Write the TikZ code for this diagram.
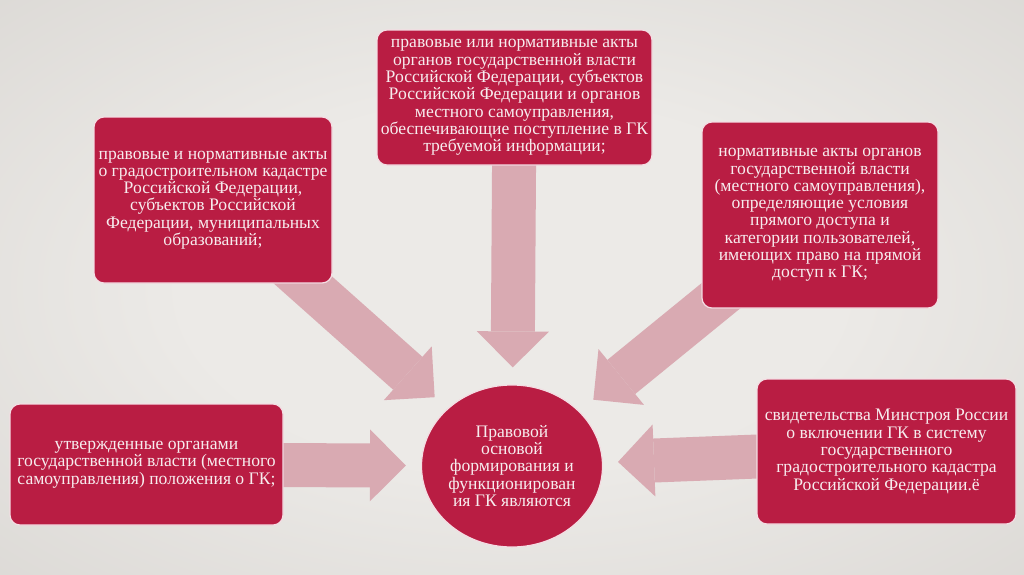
\documentclass[tikz,border=0pt]{standalone}
\usepackage{fontspec}
\setmainfont{Liberation Serif}
\usetikzlibrary{arrows.meta,shapes.geometric}
\definecolor{boxred}{HTML}{B91D43}
\definecolor{arrowpink}{HTML}{D9AAB2}
\definecolor{txtcol}{HTML}{F7ECEE}
\definecolor{bgA}{HTML}{ECEAE7}
\definecolor{bgB}{HTML}{D2CFCB}
\definecolor{bgC}{HTML}{C0BDB9}
\pgfdeclareradialshading{bgshade}{\pgfpoint{0bp}{0bp}}{color(0bp)=(bgA); color(16bp)=(bgA); color(50bp)=(bgB); color(72bp)=(bgC)}
\pgfdeclarelayer{back}
\pgfdeclarelayer{bg}
\pgfsetlayers{back,bg,main}
\begin{document}
\begin{tikzpicture}[x=1pt,y=-1pt,
  box/.style={rectangle, rounded corners=10pt, fill=boxred, draw=white!85!boxred, line width=1.2pt,
    text=txtcol, align=center, inner sep=0pt, font=\fontsize{17.6}{17.3}\selectfont},
  hub/.style={ellipse, fill=boxred, draw=white!85!boxred, line width=1.2pt,
    text=txtcol, align=center, inner sep=0pt, font=\fontsize{17.6}{17.3}\selectfont},
  flow/.style={draw=arrowpink, line width=44pt,
    -{Triangle[width=72pt,length=36pt,line width=0pt]}}]
\begin{pgfonlayer}{back}
\shade[shading=bgshade] (0,0) rectangle (1024,574);
\end{pgfonlayer}
\useasboundingbox (0,0) rectangle (1024,574);

\node[box, minimum width=275pt, minimum height=135pt] (top) at (514.5,97.5)
 {правовые или нормативные акты\\органов государственной власти\\Российской Федерации, субъектов\\Российской Федерации и органов\\местного самоуправления,\\обеспечивающие поступление в ГК\\требуемой информации;};
\node[box, minimum width=238pt, minimum height=166pt] (ul) at (213,200)
 {правовые и нормативные акты\\о градостроительном кадастре\\Российской Федерации,\\субъектов Российской\\Федерации, муниципальных\\образований;};
\node[box, minimum width=236pt, minimum height=186pt] (ur) at (820,215)
 {нормативные акты органов\\государственной власти\\(местного самоуправления),\\определяющие условия\\прямого доступа и\\категории пользователей,\\имеющих право на прямой\\доступ к ГК;};
\node[box, minimum width=273pt, minimum height=121pt] (ll) at (146.5,464.5)
 {утвержденные органами\\государственной власти (местного\\самоуправления) положения о ГК;};
\node[box, minimum width=259pt, minimum height=145pt] (rl) at (886.5,451.5)
 {свидетельства Минстроя России\\о включении ГК в систему\\государственного\\градостроительного кадастра\\Российской Федерации.ё};
\node[hub, minimum width=181pt, minimum height=162pt] (circ) at (512,466)
 {Правовой\\основой\\формирования и\\функционирован\\ия ГК являются};

\begin{pgfonlayer}{bg}
\draw[flow, shorten >=17pt] (top.center) -- (circ);
\draw[flow, shorten >=17pt] (ul.center) -- (circ);
\draw[flow, shorten >=18pt] (ur.center) -- (circ);
\draw[flow, shorten >=15pt] (ll.center) -- (circ);
\draw[flow, shorten >=15pt] (rl.center) -- (circ);
\end{pgfonlayer}
\end{tikzpicture}
\end{document}
